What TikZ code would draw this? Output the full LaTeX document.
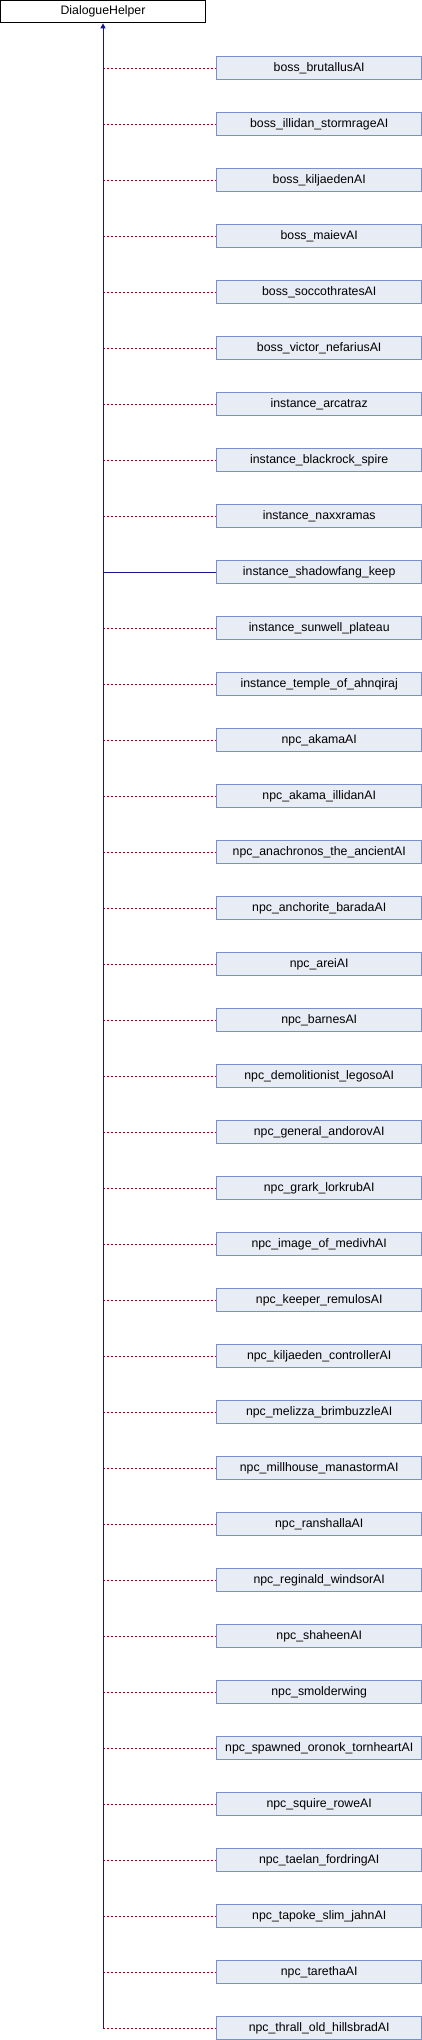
\documentclass[tikz,border=0pt]{standalone}
\usepackage{fontspec}
\setmainfont{Liberation Sans}
\usetikzlibrary{arrows.meta}
\definecolor{clsfill}{RGB}{232, 236, 245}
\definecolor{clsline}{RGB}{118, 145, 204}
\definecolor{inhblue}{RGB}{20, 20, 150}
\definecolor{usered}{RGB}{150, 0, 0}
\tikzset{cls/.style = {draw = clsline, fill = clsfill, line width = 1pt, minimum width = 205pt, minimum height = 22.7pt, inner sep = 0, font = \fontsize{12.3}{14}\selectfont}}
\tikzset{topcls/.style = {cls, draw = black, fill = white}}
\tikzset{inh/.style = {inhblue, line width = 1pt}}
\tikzset{uses/.style = {usered, line width = 1pt, dash pattern = on 2pt off 2pt}}

\begin{document}
\begin{tikzpicture}[x = 1pt, y = -1pt]
       \useasboundingbox (0, 0) rectangle (422, 2040);

       \node [topcls] (base) at (103, 11.5) {DialogueHelper};

       \foreach \cname [count = \i] in {boss\_brutallusAI, boss\_illidan\_stormrageAI, boss\_kiljaedenAI, boss\_maievAI, boss\_soccothratesAI, boss\_victor\_nefariusAI, instance\_arcatraz, instance\_blackrock\_spire, instance\_naxxramas, instance\_shadowfang\_keep, instance\_sunwell\_plateau, instance\_temple\_of\_ahnqiraj, npc\_akamaAI, npc\_akama\_illidanAI, npc\_anachronos\_the\_ancientAI, npc\_anchorite\_baradaAI, npc\_areiAI, npc\_barnesAI, npc\_demolitionist\_legosoAI, npc\_general\_andorovAI, npc\_grark\_lorkrubAI, npc\_image\_of\_medivhAI, npc\_keeper\_remulosAI, npc\_kiljaeden\_controllerAI, npc\_melizza\_brimbuzzleAI, npc\_millhouse\_manastormAI, npc\_ranshallaAI, npc\_reginald\_windsorAI, npc\_shaheenAI, npc\_smolderwing, npc\_spawned\_oronok\_tornheartAI, npc\_squire\_roweAI, npc\_taelan\_fordringAI, npc\_tapoke\_slim\_jahnAI, npc\_tarethaAI, npc\_thrall\_old\_hillsbradAI}
         \node [cls] (c\i) at (319.2, 12 + 56*\i) {\cname};

       % dotted links, the shadowfang one is solid
       \foreach \i in {1, ..., 9, 11, 12, ..., 36}
         \draw [uses] (base.south |- c\i.west) -- (c\i.west);
       \draw [inh] (base.south |- c10.west) -- (c10.west);

       \draw [inh, -{Triangle[length = 5pt, width = 5pt]}] (base.south |- c36.west) -- (base.south);
    \end{tikzpicture}
\end{document}
